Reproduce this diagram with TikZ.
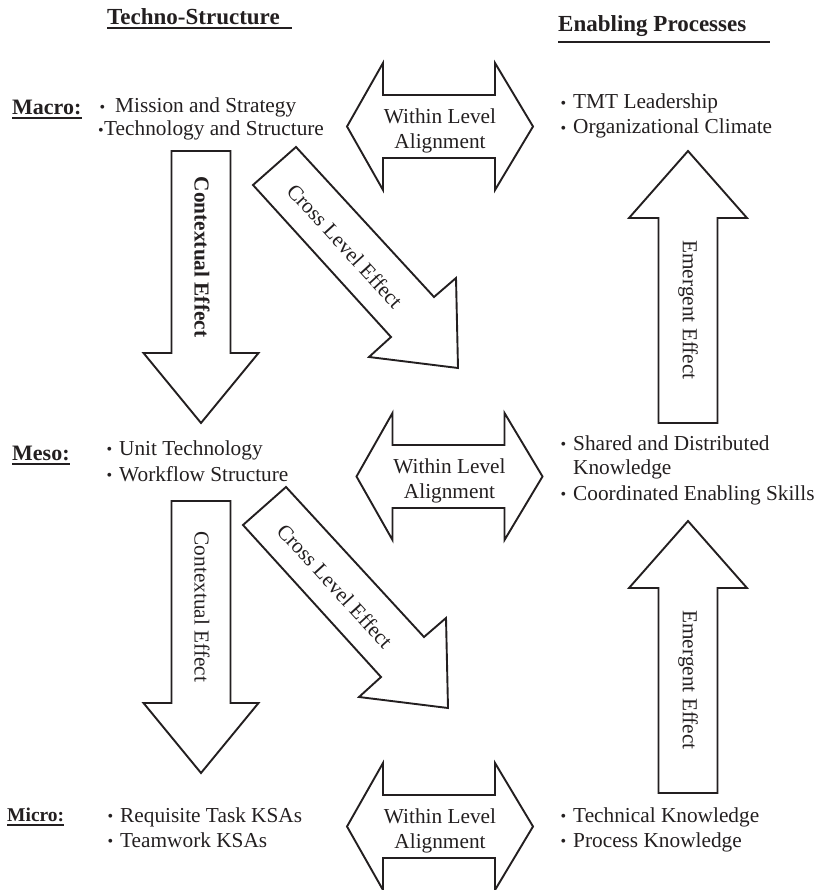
\documentclass[tikz,border=0pt]{standalone}
\usepackage{fontspec}
\setmainfont{Liberation Serif}
\usetikzlibrary{calc}
\definecolor{ink}{RGB}{35,31,32}
% bullet hung to the left of an item's text
\newcommand{\bul}[1][7pt]{\llap{\raisebox{0.5pt}{\fontsize{16}{16}\selectfont\textbullet}\hspace{#1}}}

\begin{document}
\begin{tikzpicture}[x=1pt,y=-1pt,
  blockarrow/.style={draw=ink, line width=1.9pt, line join=miter, miter limit=10, fill=white},
  txt/.style={font=\fontsize{21.3}{25}\selectfont, text=ink, inner sep=0pt},
  item/.style={txt, anchor=base west},
  level/.style={font=\fontsize{22}{26}\selectfont\bfseries, text=ink, inner sep=0pt, anchor=base west},
  header/.style={font=\fontsize{23}{27}\selectfont\bfseries, text=ink, inner sep=0pt, anchor=base west},
  rule/.style={draw=ink, line width=2pt},
  % double-headed "within level" arrow, centred on its position
  pics/wla/.style={code={
    \draw[blockarrow] (-93,0) -- (-57,-63.5) -- (-57,-31.5) -- (55,-31.5) -- (55,-63.5)
      -- (93,0) -- (55,63.5) -- (55,31.5) -- (-57,31.5) -- (-57,63.5) -- cycle;
    \node[txt, align=center] (-label) at (0,4) {Within Level\\Alignment};
  }},
  % downward block arrow, positioned by its tip
  pics/ctx/.style={code={
    \draw[blockarrow] (0,0) -- (57.5,-70) -- (29.5,-70) -- (29.5,-272) -- (-29.5,-272)
      -- (-29.5,-70) -- (-57.5,-70) -- cycle;
    \node[txt, rotate=-90] (-label) at (1,-166) {#1};
  }},
  % upward block arrow, positioned by its tip
  pics/emg/.style={code={
    \draw[blockarrow] (0,0) -- (59,67) -- (29.5,67) -- (29.5,272) -- (-29.5,272)
      -- (-29.5,67) -- (-59,67) -- cycle;
    \node[txt, rotate=-90] (-label) at (0,159) {Emergent Effect};
  }},
  % diagonal block arrow, positioned by its tip
  pics/cross/.style={code={
    \draw[blockarrow] (-205,-183) -- (-162,-221) -- (-24,-71) -- (-2,-90) -- (0,0)
      -- (-89,-11) -- (-67,-31) -- cycle;
    \node[txt, rotate=-47.5] (-label) at (-113,-122) {Cross Level Effect};
  }}
]
\useasboundingbox (0,0) rectangle (823,890);

% column headers
\node[header] (ts) at (107,25) {Techno-Structure};
\draw[rule] ($(ts.base west)+(0,3.5)$) -- ($(ts.base east)+(12,3.5)$);
\node[header] (ep) at (558,32) {Enabling Processes};
\draw[rule, line width=2.6pt] ($(ep.base west)+(0,10)$) -- ($(ep.base east)+(24,10)$);

% level labels
\node[level] (macro) at (12,115) {Macro:};
\draw[rule] ($(macro.base west)+(0,3.5)$) -- ($(macro.base east)+(0,3.5)$);
\node[level] (meso) at (12,460) {Meso:};
\draw[rule] ($(meso.base west)+(0,3.5)$) -- ($(meso.base east)+(0,3.5)$);
\node[level, font=\fontsize{19.5}{24}\selectfont\bfseries] (micro) at (7,821) {Micro:};
\draw[rule] ($(micro.base west)+(0,3.5)$) -- ($(micro.base east)+(0,3.5)$);

% block arrows
\pic (wlaMacro) at (440,126.5) {wla};
\pic (wlaMeso) at (449.5,476.5) {wla};
\pic (wlaMicro) at (440,826.5) {wla};
\pic (ctxTop) at (201,423) {ctx={\bfseries Contextual Effect}};
\pic (ctxBot) at (201,773) {ctx={Contextual Effect}};
\pic (emgTop) at (688,151) {emg};
\pic (emgBot) at (688,521) {emg};
\pic (crossTop) at (458,368) {cross};
\pic (crossBot) at (448,708) {cross};

% macro level items
\node[item] (mission) at (115,113) {\bul[10pt]Mission and Strategy};
\node[item] (techStruct) at (104,136) {\bul[0.5pt]Technology and Structure};
\node[item] (tmt) at (573,109) {\bul TMT Leadership};
\node[item] (climate) at (573,134) {\bul Organizational Climate};

% meso level items
\node[item] (unitTech) at (119,455) {\bul Unit Technology};
\node[item] (workflow) at (119,481) {\bul Workflow Structure};
\node[item] (shared) at (573,450) {\bul Shared and Distributed};
\node[item] (sharedK) at (573,474) {Knowledge};
\node[item] (coord) at (573,500) {\bul Coordinated Enabling Skills};

% micro level items
\node[item] (reqTask) at (120,822) {\bul Requisite Task KSAs};
\node[item] (teamwork) at (120,847) {\bul Teamwork KSAs};
\node[item] (technical) at (573,822) {\bul Technical Knowledge};
\node[item] (process) at (573,847) {\bul Process Knowledge};
\end{tikzpicture}
\end{document}
